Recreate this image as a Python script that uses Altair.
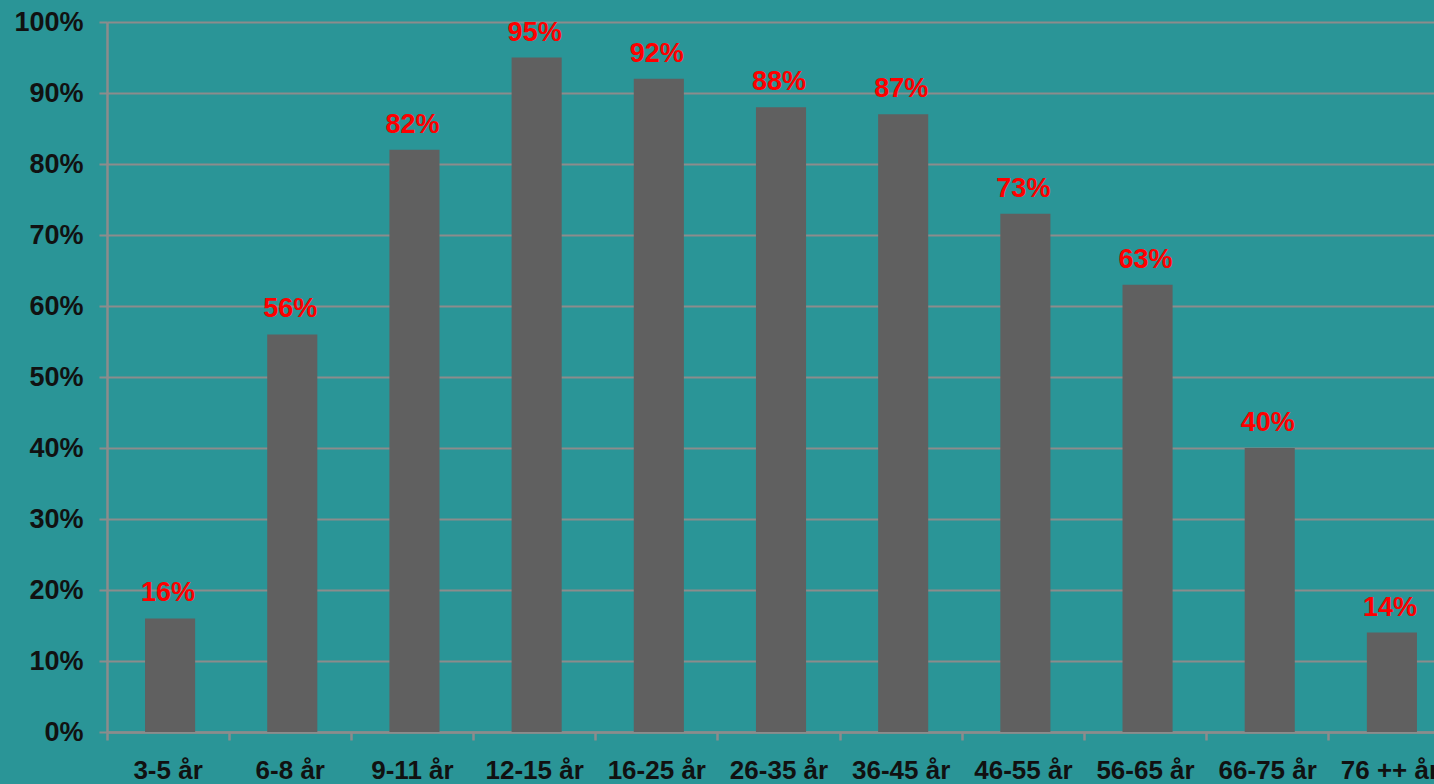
import altair as alt
import pandas as pd

categories = ["3-5 år", "6-8 år", "9-11 år", "12-15 år", "16-25 år", "26-35 år",
              "36-45 år", "46-55 år", "56-65 år", "66-75 år", "76 ++ år"]
values = [16, 56, 82, 95, 92, 88, 87, 73, 63, 40, 14]
y_ticks = [0, 10, 20, 30, 40, 50, 60, 70, 80, 90, 100]

df = pd.DataFrame({"cat": categories, "val": values,
                   "label": [f"{v}%" for v in values]})

BG = "#2A9597"
LINE = "#8C8C8C"
FONT = "Liberation Sans"

x = alt.X("cat:N", sort=categories, title=None,
          scale=alt.Scale(paddingInner=0, paddingOuter=0, range=[0, 1344]),
          axis=alt.Axis(labelAngle=0, labelFont=FONT, labelFontSize=26,
                        labelFontWeight="bold", labelColor="#111111",
                        labelBaseline="alphabetic", labelPadding=38,
                        tickSize=8, tickColor=LINE, tickWidth=2.5,
                        bandPosition=0, domainColor=LINE, domainWidth=2.5,
                        grid=False, labelOverlap=False))
y = alt.Y("val:Q", title=None,
          scale=alt.Scale(domain=[0, 100], nice=False),
          axis=alt.Axis(values=y_ticks, labelExpr="datum.value + '%'",
                        labelFont=FONT, labelFontSize=27, labelFontWeight="bold",
                        labelColor="#111111", labelPadding=16,
                        tickSize=8, tickColor=LINE, tickWidth=2,
                        domainColor=LINE, domainWidth=2.5,
                        grid=True, gridColor=LINE, gridWidth=2))

bars = alt.Chart(df).mark_bar(color="#606060", width={"band": 0.41}, xOffset=2).encode(x=x, y=y)
text = alt.Chart(df).mark_text(color="#FF0000", font=FONT, fontSize=27,
                               fontWeight="bold", baseline="alphabetic",
                               dy=-17).encode(x=x, y="val:Q", text="label:N")

chart = (bars + text).properties(
    width=1327, height=710,
    background=BG,
    autosize=alt.AutoSizeParams(type="none"),
    padding={"left": 107, "right": 0, "top": 22, "bottom": 52},
).configure_view(stroke=None, fill=BG)

chart.save("out.html", embed_options={"renderer": "svg", "actions": False})
